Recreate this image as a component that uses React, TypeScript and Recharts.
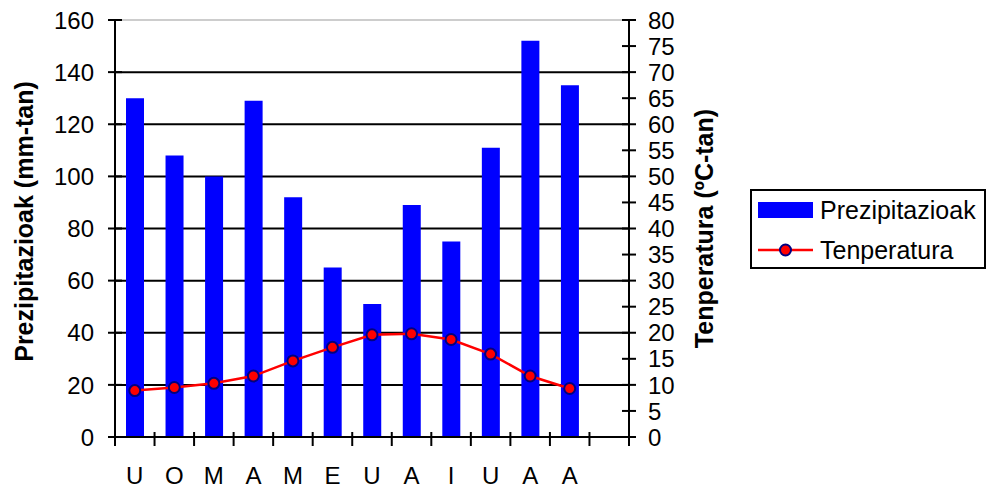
import {
  ComposedChart,
  Bar,
  Line,
  XAxis,
  YAxis,
  CartesianGrid,
  ReferenceLine,
  Label,
} from "recharts";

const FONT = "'Liberation Sans', Arial, sans-serif";

// last category is left empty, as in the original sheet
const months = ["U", "O", "M", "A", "M", "E", "U", "A", "I", "U", "A", "A", ""];
const precipitation = [130, 108, 100, 129, 92, 65, 51, 89, 75, 111, 152, 135, null];
const temperature = [8.9, 9.5, 10.3, 11.7, 14.6, 17.2, 19.6, 19.8, 18.7, 15.9, 11.7, 9.3, null];
const precipTicks = [0, 20, 40, 60, 80, 100, 120, 140, 160];
const tempTicks = [0, 5, 10, 15, 20, 25, 30, 35, 40, 45, 50, 55, 60, 65, 70, 75, 80];

const data = months.map((m, i) => ({
  month: m,
  prezipitazioak: precipitation[i],
  tenperatura: temperature[i],
}));

function MonthTick(props: any) {
  const { x, y, payload } = props;
  const half = payload.offset ?? 19.75;
  const last = payload.index === months.length - 1;
  return (
    <g>
      <line x1={x - half} x2={x - half} y1={y - 5} y2={y + 9} stroke="#000" strokeWidth={2} />
      {last && <line x1={x + half} x2={x + half} y1={y - 5} y2={y + 9} stroke="#000" strokeWidth={2} />}
      <text x={x} y={y + 47} textAnchor="middle" fontSize={24} fontFamily={FONT} fill="#000">
        {payload.value}
      </text>
    </g>
  );
}

function LeftTick(props: any) {
  const { x, y, payload } = props;
  return (
    <g>
      <line x1={x - 7} x2={x + 7} y1={y} y2={y} stroke="#000" strokeWidth={2} />
      <text x={x - 21} y={y} dy="0.36em" textAnchor="end" fontSize={24} fontFamily={FONT} fill="#000">
        {payload.value}
      </text>
    </g>
  );
}

function RightTick(props: any) {
  const { x, y, payload } = props;
  return (
    <g>
      <line x1={x - 7} x2={x + 7} y1={y} y2={y} stroke="#000" strokeWidth={2} />
      <text x={x + 19} y={y} dy="0.36em" textAnchor="start" fontSize={24} fontFamily={FONT} fill="#000">
        {payload.value}
      </text>
    </g>
  );
}

function AxisTitle({ viewBox, value, dx, dy = 0 }: any) {
  const cx = viewBox.x + dx;
  const cy = viewBox.y + viewBox.height / 2 + dy;
  return (
    <text
      x={cx}
      y={cy}
      transform={`rotate(-90, ${cx}, ${cy})`}
      textAnchor="middle"
      fontSize={25}
      fontWeight="bold"
      fontFamily={FONT}
      fill="#000"
    >
      {value}
    </text>
  );
}

function LegendBox() {
  return (
    <svg width={236} height={80} style={{ display: "block" }}>
      <rect x={1} y={1} width={234} height={78} fill="#fff" stroke="#000" strokeWidth={2} />
      <rect x={8} y={13} width={55} height={16} fill="#0000ff" />
      <text x={70} y={21} dy="0.36em" fontSize={25} fontFamily={FONT} fill="#000">
        Prezipitazioak
      </text>
      <line x1={8} x2={63} y1={61} y2={61} stroke="#ff0000" strokeWidth={2.5} />
      <circle cx={35.5} cy={61} r={5.5} fill="#ff0000" stroke="#000080" strokeWidth={2} />
      <text x={70} y={61} dy="0.36em" fontSize={25} fontFamily={FONT} fill="#000">
        Tenperatura
      </text>
    </svg>
  );
}

export default function App() {
  return (
    <div style={{ position: "absolute", left: 0, top: 0, width: 987, height: 491, background: "#fff" }}>
      <ComposedChart
        width={987}
        height={491}
        data={data}
        margin={{ top: 20, right: 0, bottom: 0, left: 0 }}
      >
        <CartesianGrid
          yAxisId="p"
          vertical={false}
          stroke="#000"
          strokeWidth={2}
          horizontalValues={[20, 40, 60, 80, 100, 120, 140]}
        />
        <ReferenceLine yAxisId="p" y={160} stroke="#bdbdbd" strokeWidth={1.5} />
        <XAxis
          dataKey="month"
          height={54}
          interval={0}
          tickSize={0}
          tickMargin={0}
          tickLine={false}
          axisLine={{ stroke: "#000", strokeWidth: 2 }}
          tick={<MonthTick />}
        />
        <YAxis
          yAxisId="p"
          width={115}
          domain={[0, 160]}
          ticks={precipTicks}
          interval={0}
          tickSize={0}
          tickMargin={0}
          tickLine={false}
          axisLine={{ stroke: "#000", strokeWidth: 2 }}
          tick={<LeftTick />}
        >
          <Label content={(p: any) => <AxisTitle {...p} value="Prezipitazioak (mm-tan)" dx={33} dy={-7} />} />
        </YAxis>
        <YAxis
          yAxisId="t"
          orientation="right"
          width={358}
          domain={[0, 80]}
          ticks={tempTicks}
          interval={0}
          tickSize={0}
          tickMargin={0}
          tickLine={false}
          axisLine={{ stroke: "#000", strokeWidth: 2 }}
          tick={<RightTick />}
        >
          <Label content={(p: any) => <AxisTitle {...p} value="Tenperatura (ºC-tan)" dx={84} />} />
        </YAxis>
        <Bar
          yAxisId="p"
          dataKey="prezipitazioak"
          name="Prezipitazioak"
          fill="#0000ff"
          barSize={18}
          isAnimationActive={false}
        />
        <Line
          yAxisId="t"
          dataKey="tenperatura"
          name="Tenperatura"
          type="linear"
          stroke="#ff0000"
          strokeWidth={2.5}
          dot={{ r: 5.5, fill: "#ff0000", stroke: "#000080", strokeWidth: 2 }}
          isAnimationActive={false}
        />
      </ComposedChart>
      <div style={{ position: "absolute", left: 750, top: 189 }}>
        <LegendBox />
      </div>
    </div>
  );
}
